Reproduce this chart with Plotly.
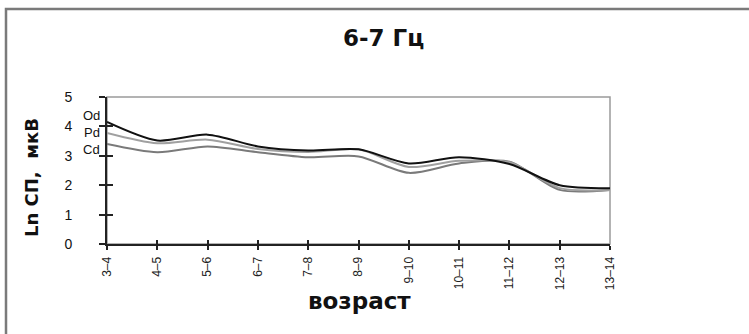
import plotly.graph_objects as go

categories = ["3–4", "4–5", "5–6", "6–7", "7–8", "8–9", "9–10", "10–11", "11–12", "12–13", "13–14"]
od = [4.15, 3.52, 3.72, 3.32, 3.18, 3.22, 2.74, 2.95, 2.72, 2.00, 1.90]
pd_ = [3.78, 3.43, 3.55, 3.23, 3.13, 3.22, 2.62, 2.83, 2.78, 1.90, 1.84]
cd = [3.40, 3.12, 3.32, 3.12, 2.95, 2.98, 2.42, 2.74, 2.80, 1.84, 1.84]
series = [("Od", od, "#111111"), ("Pd", pd_, "#a0a0a0"), ("Cd", cd, "#7a7a7a")]
label_y = {"Od": 4.38, "Pd": 3.79, "Cd": 3.2}
yticks = [0, 1, 2, 3, 4, 5]

FONT = "Arial, Liberation Sans, sans-serif"
WIDE = "DejaVu Sans, Verdana, sans-serif"
fig = go.Figure()
for name, vals, col in series[::-1]:
    fig.add_trace(go.Scatter(x=categories, y=vals, mode="lines", name=name,
                             line=dict(color=col, width=2, shape="spline", smoothing=0.8),
                             showlegend=False))
# overlay axes for inward ticks
fig.add_trace(go.Scatter(x=categories, y=[None]*len(categories), xaxis="x2", yaxis="y2",
                         showlegend=False, hoverinfo="skip"))

W, H = 749, 334
L, R, T, B = 107, 139, 97, 90
pw, ph = W - L - R, H - T - B

def px(xp):
    return (xp - L) / pw

def py(yp):
    return (H - B - yp) / ph

fig.update_layout(
    width=W, height=H,
    margin=dict(l=L, r=R, t=T, b=B),
    paper_bgcolor="white", plot_bgcolor="white",
    font=dict(family=FONT, color="#111"),
    xaxis=dict(type="category", categoryorder="array", categoryarray=categories,
               range=[0, len(categories) - 1], showgrid=False, zeroline=False,
               showline=True, linecolor="#222", linewidth=2,
               ticks="outside", ticklen=4, tickwidth=1.5, tickcolor="#222",
               tickangle=-90, tickfont=dict(size=12, color="#222"), ticklabelstandoff=2),
    yaxis=dict(range=[0, 5], tickvals=yticks, showgrid=False, zeroline=False,
               showline=True, linecolor="#222", linewidth=2,
               ticks="outside", ticklen=6, tickwidth=1.5, tickcolor="#222",
               tickfont=dict(size=14, color="#111"), ticklabelstandoff=24),
    xaxis2=dict(type="category", categoryorder="array", categoryarray=categories,
                range=[0, len(categories) - 1], overlaying="x", showgrid=False,
                zeroline=False, showline=False, ticks="inside", ticklen=4, tickwidth=1.5,
                tickcolor="#222", showticklabels=False, side="bottom", anchor="y"),
    yaxis2=dict(range=[0, 5], tickvals=yticks, overlaying="y", showgrid=False,
                zeroline=False, showline=False, ticks="inside", ticklen=6, tickwidth=1.5,
                tickcolor="#222", showticklabels=False, side="left", anchor="x"),
    shapes=[
        dict(type="rect", xref="paper", yref="paper", x0=0, x1=1, y0=0, y1=1,
             line=dict(color="#9a9a9a", width=1.5), layer="below"),
        dict(type="rect", xref="paper", yref="paper", x0=px(6), x1=px(800), y0=py(400), y1=py(9),
             line=dict(color="#7a7a7a", width=2.5), layer="below"),
    ],
    annotations=[
        dict(text="<b>6-7 Гц</b>", xref="paper", yref="paper", x=px(383), y=py(38),
             showarrow=False, font=dict(size=23, color="#111", family=WIDE),
             xanchor="center", yanchor="middle"),
        dict(text="<b>возраст</b>", xref="paper", yref="paper", x=px(359), y=py(301),
             showarrow=False, font=dict(size=23, color="#111", family=WIDE),
             xanchor="center", yanchor="middle"),
        dict(text="<b>Ln СП,  мкВ</b>", xref="paper", yref="paper", x=px(31), y=py(178),
             showarrow=False, textangle=-90, font=dict(size=18, color="#111", family=WIDE),
             xanchor="center", yanchor="middle"),
    ] + [
        dict(text=name, xref="paper", yref="y", x=px(102), y=label_y[name], showarrow=False,
             xanchor="right", yanchor="middle", font=dict(size=13, color="#111"))
        for name, _, _ in series
    ],
)

fig.write_html("out.html", config={"displayModeBar": False})
with open("out.html", "r", encoding="utf-8") as f:
    html = f.read()
html = html.replace("<head>", "<head><style>body{margin:0;padding:0;}</style>", 1)
with open("out.html", "w", encoding="utf-8") as f:
    f.write(html)
